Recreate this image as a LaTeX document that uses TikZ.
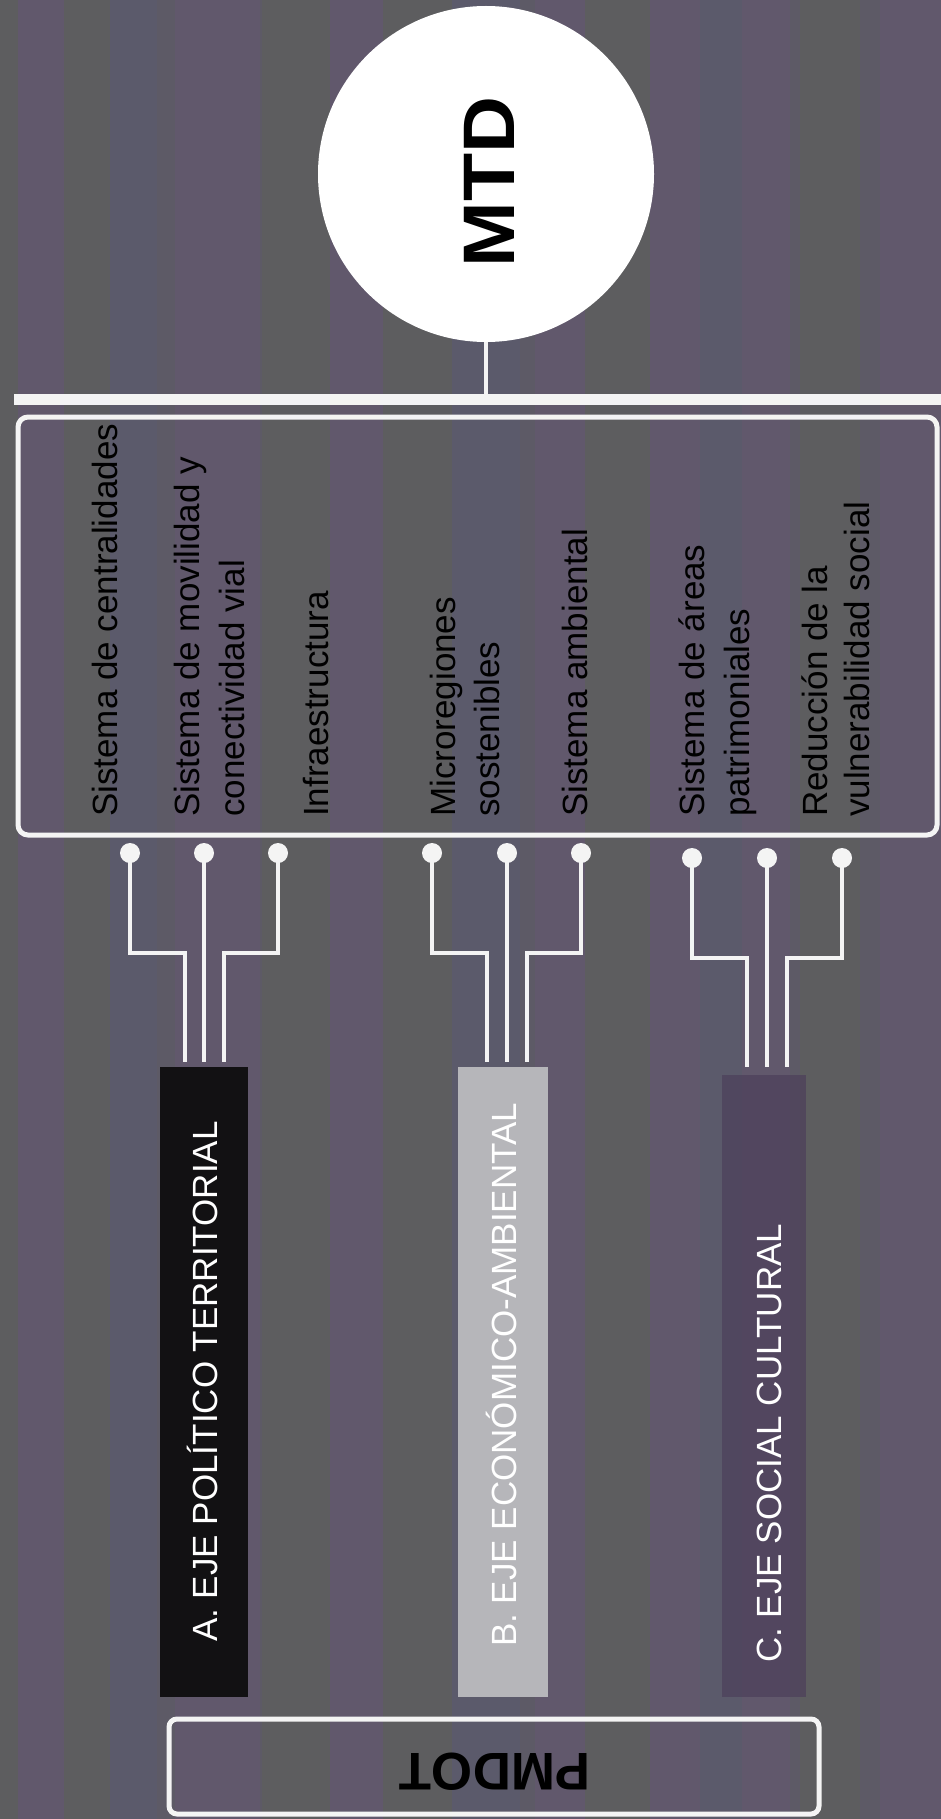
\documentclass[tikz,border=0pt]{standalone}
\usepackage{fontspec}
\setmainfont{Liberation Sans}
\definecolor{bgbase}{HTML}{5D5A66}
\definecolor{bggreen}{HTML}{5D6159}
\definecolor{bgpurple}{HTML}{665872}
\definecolor{bgblue}{HTML}{5B5A70}
\definecolor{linewhite}{HTML}{F4F4F4}
\definecolor{axisA}{HTML}{121113}
\definecolor{axisB}{HTML}{B6B6BA}
\definecolor{axisC}{HTML}{4C3F5A}
\begin{document}
\begin{tikzpicture}[x=1pt,y=-1pt,
  wire/.style={draw=linewhite, line width=4.5pt},
  pin/.style={circle, fill=linewhite, minimum size=20pt, inner sep=0pt},
  item/.style={rotate=90, anchor=base west, inner sep=0pt, text=black,
    font=\fontsize{35}{42}\selectfont},
  axislabel/.style={rotate=90, anchor=base west, inner sep=0pt, text=white,
    font=\fontsize{35}{42}\selectfont},
  axisbox/.style={rectangle, draw=none, inner sep=0pt},
  frame/.style={draw=linewhite, line width=5pt, inner sep=0pt},
]
% background with soft vertical tint bands
\useasboundingbox (0,0) rectangle (941,1819);
\fill[bgbase] (0,0) rectangle (941,1819);
\foreach \a/\b/\c in {0/18/bggreen, 18/64/bgpurple, 64/110/bggreen, 110/157/bgblue,
  175/260/bgpurple, 262/330/bggreen, 330/383/bgpurple, 383/452/bggreen,
  452/520/bgblue, 535/585/bgpurple, 585/650/bggreen, 650/700/bgpurple,
  700/742/bgblue, 742/790/bgpurple, 800/860/bggreen, 880/941/bgpurple}
  \fill[\c, opacity=0.5] (\a,0) rectangle (\b,1819);

% top circle
\node[circle, fill=white, minimum size=336pt, inner sep=0pt] (mtd) at (486,174) {};
\node[rotate=90, inner sep=0pt, font=\bfseries\fontsize{73}{73}\selectfont] (mtdtext) at (489,182) {\scalebox{1.08}[1]{MTD}};

% horizontal bar and link to the circle
\coordinate (barW) at (14,399);
\coordinate (barE) at (941,399);
\draw[linewhite, line width=11pt] (barW) -- (barE);
\draw[linewhite, line width=4pt] (mtd.south) -- (mtd.south |- barW);

% panel of components
\node[frame, rounded corners=10pt, minimum width=919pt, minimum height=418pt] (panel) at (477.5,626) {};
\node[item] (i1)  at (117,817) {Sistema de centralidades};
\node[item] (i2a) at (199,817) {Sistema de movilidad y};
\node[item] (i2b) at (244,817) {conectividad vial};
\node[item] (i3)  at (328,817) {Infraestructura};
\node[item] (i4a) at (455,817) {Microregiones};
\node[item] (i4b) at (499,817) {sostenibles};
\node[item] (i5)  at (587,817) {Sistema ambiental};
\node[item] (i6a) at (704,817) {Sistema de áreas};
\node[item] (i6b) at (749,817) {patrimoniales};
\node[item] (i7a) at (827,817) {Reducción de la};
\node[item] (i7b) at (869,817) {vulnerabilidad social};

% axis boxes
\node[axisbox, fill=axisA, minimum width=88pt, minimum height=630pt] (bA) at (204,1382) {};
\node[axisbox, fill=axisB, minimum width=90pt, minimum height=630pt] (bB) at (503,1382) {};
\node[axisbox, fill=axisC, fill opacity=0.7, minimum width=84pt, minimum height=622pt] (bC) at (764,1386) {};
\node[axislabel] (tA) at (217,1642) {A. EJE POLÍTICO TERRITORIAL};
\node[axislabel] (tB) at (516,1647) {B. EJE ECONÓMICO-AMBIENTAL};
\node[axislabel] (tC) at (781,1663) {C. EJE SOCIAL CULTURAL};

% pins
\node[pin] (pA1) at (130,853) {};
\node[pin] (pA2) at (204,853) {};
\node[pin] (pA3) at (278,853) {};
\node[pin] (pB1) at (432,853) {};
\node[pin] (pB2) at (507,853) {};
\node[pin] (pB3) at (581,853) {};
\node[pin] (pC1) at (692,858) {};
\node[pin] (pC2) at (767,858) {};
\node[pin] (pC3) at (842,858) {};

% bend points and wire ends
\coordinate (kA1) at (185,953);  \coordinate (eA1) at (185,1062);
\coordinate (eA2) at (204,1062);
\coordinate (kA3) at (224,953);  \coordinate (eA3) at (224,1062);
\coordinate (kB1) at (487,953);  \coordinate (eB1) at (487,1062);
\coordinate (eB2) at (507,1062);
\coordinate (kB3) at (527,953);  \coordinate (eB3) at (527,1062);
\coordinate (kC1) at (747,958);  \coordinate (eC1) at (747,1067);
\coordinate (eC2) at (767,1067);
\coordinate (kC3) at (787,958);  \coordinate (eC3) at (787,1067);

% wires
\draw[wire] (pA1.center) |- (kA1) -- (eA1);
\draw[wire] (pA2.center) -- (eA2);
\draw[wire] (pA3.center) |- (kA3) -- (eA3);
\draw[wire] (pB1.center) |- (kB1) -- (eB1);
\draw[wire] (pB2.center) -- (eB2);
\draw[wire] (pB3.center) |- (kB3) -- (eB3);
\draw[wire] (pC1.center) |- (kC1) -- (eC1);
\draw[wire] (pC2.center) -- (eC2);
\draw[wire] (pC3.center) |- (kC3) -- (eC3);

% bottom box
\node[frame, rounded corners=8pt, minimum width=650pt, minimum height=95pt] (pmdot) at (494,1766.5) {};
\node[rotate=180, inner sep=0pt, font=\bfseries\fontsize{53}{53}\selectfont] (pmdottext) at (495,1772) {PMDOT};
\end{tikzpicture}
\end{document}
